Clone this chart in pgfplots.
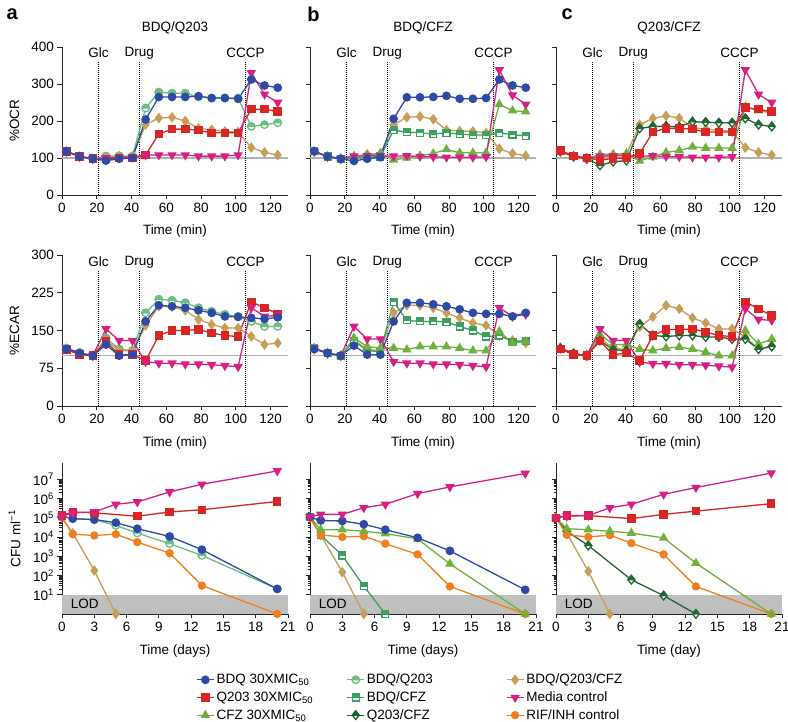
\documentclass[border=0pt]{standalone}
\usepackage{fontspec}
\setmainfont{Liberation Sans}
\usepackage{pgfplots}
\pgfplotsset{compat=1.18}
\usepackage{pgfplotstable}
\usetikzlibrary{plotmarks}

\newcommand\fs{\fontsize{13.5}{16}\selectfont}

\definecolor{cB}{RGB}{46,74,165}
\definecolor{cQ}{RGB}{216,38,36}
\definecolor{cC}{RGB}{110,178,60}
\definecolor{cBQ}{RGB}{110,190,130}
\definecolor{cBC}{RGB}{60,160,95}
\definecolor{cQC}{RGB}{35,100,55}
\definecolor{cBQC}{RGB}{198,158,88}
\definecolor{cM}{RGB}{214,32,132}
\definecolor{cR}{RGB}{238,128,32}

% half-filled marks (upper half in series colour, lower half white)
\pgfdeclareplotmark{hcircBQ}{%
  \pgfpathcircle{\pgfpointorigin}{\pgfplotmarksize}\pgfusepathqfillstroke
  \begin{pgfscope}\pgfsetfillcolor{cBQ}%
  \pgfpathmoveto{\pgfqpoint{\pgfplotmarksize}{0pt}}%
  \pgfpatharc{0}{180}{\pgfplotmarksize}\pgfpathclose\pgfusepathqfillstroke
  \end{pgfscope}}
\pgfdeclareplotmark{hsqBC}{%
  \pgfpathrectangle{\pgfqpoint{-\pgfplotmarksize}{-\pgfplotmarksize}}{\pgfqpoint{2\pgfplotmarksize}{2\pgfplotmarksize}}\pgfusepathqfillstroke
  \begin{pgfscope}\pgfsetfillcolor{cBC}%
  \pgfpathrectangle{\pgfqpoint{-\pgfplotmarksize}{0pt}}{\pgfqpoint{2\pgfplotmarksize}{\pgfplotmarksize}}\pgfusepathqfillstroke
  \end{pgfscope}}
\pgfdeclareplotmark{hdiaQC}{%
  \pgfpathmoveto{\pgfqpoint{0pt}{\pgfplotmarksize}}%
  \pgfpathlineto{\pgfqpoint{.8\pgfplotmarksize}{0pt}}%
  \pgfpathlineto{\pgfqpoint{0pt}{-\pgfplotmarksize}}%
  \pgfpathlineto{\pgfqpoint{-.8\pgfplotmarksize}{0pt}}\pgfpathclose\pgfusepathqfillstroke
  \begin{pgfscope}\pgfsetfillcolor{cQC}%
  \pgfpathmoveto{\pgfqpoint{0pt}{\pgfplotmarksize}}%
  \pgfpathlineto{\pgfqpoint{.8\pgfplotmarksize}{0pt}}%
  \pgfpathlineto{\pgfqpoint{-.8\pgfplotmarksize}{0pt}}\pgfpathclose\pgfusepathqfillstroke
  \end{pgfscope}}

% ---------------- OCR ----------------
\pgfplotstableread{
t     bdq  q203 media bq   bqc
2.5   118  118  118   118  118
10.1  104  104  104   104  104
17.7  98   98   98    98   98
25.3  93   97   100   105  102
32.9  98   100  102   106  103
40.5  100  100  103   105  104
48.1  204  108  108   235  190
55.7  265  165  108   278  208
63.3  265  178  108   275  210
70.9  265  178  108   275  200
78.5  267  175  105   265  180
86.1  262  168  105   262  176
93.7  262  168  105   262  172
101.3 260  168  108   262  170
108.9 312  232  330   185  128
116.5 296  232  272   190  115
124.1 290  225  250   195  108
}\OCRa
\pgfplotstableread{
t     bdq  cfz  bc   bqc  media
2.5   118  115  118  118  118
10.1  104  104  104  104  104
17.7  98   98   98   98   98
25.3  92   105  100  104  105
32.9  98   108  102  110  106
40.5  102  112  104  112  106
48.1  206  95   175  190  105
55.7  264  100  170  210  106
63.3  264  106  168  212  104
70.9  265  112  165  205  103
78.5  268  123  168  175  102
86.1  260  114  165  173  102
93.7  260  114  162  172  102
101.3 262  114  162  168  103
108.9 312  245  168  125  338
116.5 296  228  163  112  270
124.1 290  225  160  106  245
}\OCRb
\pgfplotstableread{
t     q203 cfz  qc   bqc  media
2.5   120  118  118  118  118
10.1  106  104  104  104  104
17.7  100  98   98   98   98
25.3  94   110  80   104  105
32.9  99   110  90   108  106
40.5  100  112  93   110  106
48.1  112  92   180  190  105
55.7  170  103  185  207  106
63.3  180  115  186  214  104
70.9  180  120  184  208  103
78.5  178  130  198  182  102
86.1  170  127  197  178  102
93.7  170  127  195  175  102
101.3 170  127  195  172  103
108.9 236  238  207  128  338
116.5 232  228  190  115  272
124.1 225  222  185  108  250
}\OCRc
% ---------------- ECAR ----------------
\pgfplotstableread{
t     bdq  q203 media bq   bqc
2.5   113  112  115   115  113
10.1  105  102  105   106  105
17.7  100  100  100   100  100
25.3  122  128  153   135  130
32.9  100  102  130   113  110
40.5  102  102  130   110  110
48.1  168  90   88    185  160
55.7  200  140  85    212  198
63.3  198  150  85    210  197
70.9  195  150  83    205  190
78.5  190  152  83    195  172
86.1  185  145  82    188  162
93.7  178  140  80    182  155
101.3 177  138  78    178  155
108.9 175  207  195   168  138
116.5 173  195  178   158  122
124.1 176  183  180   158  125
}\ECARa
\pgfplotstableread{
t     bdq  cfz  bc   bqc  media
2.5   113  115  115  113  115
10.1  105  105  105  105  105
17.7  100  100  100  100  100
25.3  120  135  130  130  158
32.9  102  118  110  112  133
40.5  102  115  108  110  133
48.1  168  115  207  185  88
55.7  205  112  170  200  85
63.3  205  118  168  200  85
70.9  202  118  168  195  83
78.5  198  118  167  185  83
86.1  192  115  158  175  82
93.7  185  110  150  165  80
101.3 183  110  138  160  78
108.9 183  148  140  140  195
116.5 178  125  128  130  178
124.1 185  128  130  125  182
}\ECARb
\pgfplotstableread{
t     q203 cfz  qc   bqc  media
2.5   113  115  115  115  115
10.1  102  104  104  104  104
17.7  100  100  100  100  100
25.3  129  142  130  135  153
32.9  102  122  112  115  130
40.5  105  122  110  112  130
48.1  90   113  163  157  87
55.7  140  110  140  177  84
63.3  152  115  138  200  84
70.9  152  117  140  193  82
78.5  153  113  140  175  82
86.1  147  107  137  165  81
93.7  140  100  137  153  79
101.3 138  100  133  153  77
108.9 207  150  133  137  193
116.5 193  123  113  113  172
124.1 180  133  118  120  170
}\ECARc

\pgfplotsset{
  sB/.style={cB, line width=1.3pt, mark=*, mark size=3.7pt, mark options={solid, fill=cB}},
  sQ/.style={cQ, line width=1.3pt, mark=square*, mark size=3.6pt, mark options={solid, fill=cQ}},
  sC/.style={cC, line width=1.3pt, mark=triangle*, mark size=4.2pt, mark options={solid, fill=cC}},
  sBQ/.style={cBQ, line width=1.3pt, mark=hcircBQ, mark size=3.7pt, mark options={solid, fill=white}},
  sBC/.style={cBC, line width=1.3pt, mark=hsqBC, mark size=3.4pt, mark options={solid, fill=white}},
  sQC/.style={cQC, line width=1.3pt, mark=hdiaQC, mark size=4.3pt, mark options={solid, fill=white}},
  sBQC/.style={cBQC, line width=1.3pt, mark=diamond*, mark size=4.3pt, mark options={solid, fill=cBQC}},
  sM/.style={cM, line width=1.3pt, mark=triangle*, mark size=4.2pt, mark options={solid, fill=cM, rotate=180}},
  sR/.style={cR, line width=1.3pt, mark=*, mark size=3.5pt, mark options={solid, fill=cR}},
  myaxis/.style={scale only axis, width=226pt, axis lines=left,
    axis line style={-, line width=0.9pt, black!85},
    tick align=outside, major tick length=4.5pt, minor tick length=2.5pt,
    tick style={line width=0.9pt, black!85},
    tick label style={font=\fs},
    /pgf/number format/assume math mode=true, clip=false,
    every axis x label/.style={at={(axis description cs:0.5,-0.245)}, anchor=center, font=\fs},
    every axis y label/.style={at={(axis description cs:-0.21,0.5)}, rotate=90, anchor=center, font=\fs},
    every axis title/.style={at={(axis description cs:0.5,1)}, anchor=south, yshift=9pt, font=\fs},
  },
  seah/.style={myaxis, xmin=0, xmax=130, xtick={0,20,...,120}, ymin=0, xlabel={Time (min)}},
  ocr/.style={seah, height=148pt, ymax=400, ytick={0,100,...,400}},
  ecar/.style={seah, height=151pt, ymax=300, ytick={0,75,...,300}},
  noy/.style={yticklabels={}},
}

\newcommand\evOCR{%
  \draw[black!30, line width=1.6pt] (axis cs:0,100) -- (axis cs:130,100);
  \draw[densely dotted, line width=1pt] (axis cs:21,0) -- (axis cs:21,360);
  \draw[densely dotted, line width=1pt] (axis cs:44.5,0) -- (axis cs:44.5,360);
  \draw[densely dotted, line width=1pt] (axis cs:105.5,0) -- (axis cs:105.5,360);
  \node[font=\fs] at (axis cs:21,384) {Glc};
  \node[font=\fs] at (axis cs:44.5,384) {Drug};
  \node[font=\fs] at (axis cs:105.5,384) {CCCP};
}
\newcommand\evECAR{%
  \draw[black!30, line width=1.6pt] (axis cs:0,100) -- (axis cs:130,100);
  \draw[densely dotted, line width=1pt] (axis cs:21,0) -- (axis cs:21,268);
  \draw[densely dotted, line width=1pt] (axis cs:44.5,0) -- (axis cs:44.5,268);
  \draw[densely dotted, line width=1pt] (axis cs:105.5,0) -- (axis cs:105.5,268);
  \node[font=\fs] at (axis cs:21,286) {Glc};
  \node[font=\fs] at (axis cs:44.5,286) {Drug};
  \node[font=\fs] at (axis cs:105.5,286) {CCCP};
}
\newcommand\LOD{%
  \fill[black!25] (axis cs:0,1) rectangle (axis cs:21,10);
  \node[font=\fs, anchor=west] at (axis cs:0.5,3.2) {LOD};
}
\newcommand\plet{\fontsize{20}{22}\selectfont\bfseries}

\begin{document}
\begin{tikzpicture}
\path[use as bounding box] (0,0) rectangle (788pt,722pt);

% ================= Row 1: OCR =================
\begin{axis}[ocr, at={(62pt,527pt)}, anchor=south west, ylabel={\%OCR}, title={BDQ/Q203}]
\evOCR
\addplot[sBQ] table[x=t,y=bq] {\OCRa};
\addplot[sBQC] table[x=t,y=bqc] {\OCRa};
\addplot[sQ] table[x=t,y=q203] {\OCRa};
\addplot[sM] table[x=t,y=media] {\OCRa};
\addplot[sB] table[x=t,y=bdq] {\OCRa};
\node[font=\plet] at (axis description cs:-0.22,1.22) {a};
\end{axis}

\begin{axis}[ocr, noy, at={(310pt,527pt)}, anchor=south west, title={BDQ/CFZ}]
\evOCR
\addplot[sBQC] table[x=t,y=bqc] {\OCRb};
\addplot[sBC] table[x=t,y=bc] {\OCRb};
\addplot[sC] table[x=t,y=cfz] {\OCRb};
\addplot[sM] table[x=t,y=media] {\OCRb};
\addplot[sB] table[x=t,y=bdq] {\OCRb};
\node[font=\plet] at (axis description cs:0.015,1.22) {b};
\end{axis}

\begin{axis}[ocr, noy, at={(556pt,527pt)}, anchor=south west, title={Q203/CFZ}]
\evOCR
\addplot[sBQC] table[x=t,y=bqc] {\OCRc};
\addplot[sC] table[x=t,y=cfz] {\OCRc};
\addplot[sQC] table[x=t,y=qc] {\OCRc};
\addplot[sM] table[x=t,y=media] {\OCRc};
\addplot[sQ] table[x=t,y=q203] {\OCRc};
\node[font=\plet] at (axis description cs:0.05,1.22) {c};
\end{axis}

% ================= Row 2: ECAR =================
\begin{axis}[ecar, at={(62pt,316pt)}, anchor=south west, ylabel={\%ECAR}]
\evECAR
\addplot[sBQ] table[x=t,y=bq] {\ECARa};
\addplot[sBQC] table[x=t,y=bqc] {\ECARa};
\addplot[sQ] table[x=t,y=q203] {\ECARa};
\addplot[sM] table[x=t,y=media] {\ECARa};
\addplot[sB] table[x=t,y=bdq] {\ECARa};
\end{axis}

\begin{axis}[ecar, noy, at={(310pt,316pt)}, anchor=south west]
\evECAR
\addplot[sBQC] table[x=t,y=bqc] {\ECARb};
\addplot[sBC] table[x=t,y=bc] {\ECARb};
\addplot[sC] table[x=t,y=cfz] {\ECARb};
\addplot[sM] table[x=t,y=media] {\ECARb};
\addplot[sB] table[x=t,y=bdq] {\ECARb};
\end{axis}

\begin{axis}[ecar, noy, at={(556pt,316pt)}, anchor=south west]
\evECAR
\addplot[sBQC] table[x=t,y=bqc] {\ECARc};
\addplot[sC] table[x=t,y=cfz] {\ECARc};
\addplot[sQC] table[x=t,y=qc] {\ECARc};
\addplot[sM] table[x=t,y=media] {\ECARc};
\addplot[sQ] table[x=t,y=q203] {\ECARc};
\end{axis}

% ================= Row 3: CFU =================
\begin{axis}[myaxis, height=151pt, ymode=log, ymin=1, ymax=7e7, xmin=0, xmax=21,
  xtick={0,3,...,21}, ytick={10,100,1000,10000,100000,1000000,10000000},
  xlabel={Time (days)},
  at={(62pt,108pt)}, anchor=south west, ylabel={CFU ml\textsuperscript{−1}},
  yticklabels={10\textsuperscript{1},10\textsuperscript{2},10\textsuperscript{3},10\textsuperscript{4},10\textsuperscript{5},10\textsuperscript{6},10\textsuperscript{7}}]
\LOD
\addplot[sBQC] coordinates {(0,1e5)(1,1.6e4)(3,180)(5,1)};
\addplot[sR] coordinates {(0,1e5)(1,1.4e4)(3,1.2e4)(5,1.4e4)(7,5.4e3)(10,1.45e3)(13,30)(20,1)};
\addplot[sBQ] coordinates {(0,1.2e5)(1,9e4)(3,8e4)(5,4e4)(7,1.6e4)(10,4.5e3)(13,1.1e3)(20,20)};
\addplot[sB] coordinates {(0,1.2e5)(1,9e4)(3,8e4)(5,5.6e4)(7,2.7e4)(10,1.07e4)(13,2.2e3)(20,20)};
\addplot[sQ] coordinates {(0,1.3e5)(1,2e5)(3,1.8e5)(7,1.2e5)(10,2e5)(13,2.6e5)(20,7e5)};
\addplot[sM] coordinates {(0,1.17e5)(1,1.8e5)(3,2e5)(5,5e5)(7,6.6e5)(10,2.2e6)(13,5.5e6)(20,2.7e7)};
\end{axis}

\begin{axis}[myaxis, height=151pt, ymode=log, ymin=1, ymax=7e7, xmin=0, xmax=21,
  xtick={0,3,...,21}, ytick={10,100,1000,10000,100000,1000000,10000000},
  xlabel={Time (days)}, yticklabels={},
  at={(310pt,108pt)}, anchor=south west]
\LOD
\addplot[sBQC] coordinates {(0,1e5)(1,1.25e4)(3,150)(5,1)};
\addplot[sBC] coordinates {(0,1.1e5)(1,1.25e4)(3,1.1e3)(5,28)(7,1)};
\addplot[sR] coordinates {(0,1e5)(1,1.3e4)(3,1e4)(5,1.1e4)(7,4.5e3)(10,1.25e3)(13,27)(20,1)};
\addplot[sC] coordinates {(0,1.1e5)(1,2.4e4)(3,2.4e4)(5,2e4)(7,1.5e4)(10,8e3)(13,400)(20,1)};
\addplot[sB] coordinates {(0,1.1e5)(1,7.2e4)(3,6.8e4)(5,4.6e4)(7,2.4e4)(10,9.1e3)(13,1.9e3)(20,18)};
\addplot[sM] coordinates {(0,1.1e5)(1,1.5e5)(3,1.5e5)(5,3.3e5)(7,5e5)(10,1.8e6)(13,4e6)(20,2e7)};
\end{axis}

\begin{axis}[myaxis, height=151pt, ymode=log, ymin=1, ymax=7e7, xmin=0, xmax=21,
  xtick={0,3,...,21}, ytick={10,100,1000,10000,100000,1000000,10000000},
  xlabel={Time (day)}, yticklabels={},
  at={(556pt,108pt)}, anchor=south west]
\LOD
\addplot[sBQC] coordinates {(0,1e5)(1,1.6e4)(3,165)(5,1)};
\addplot[sQC] coordinates {(0,1e5)(1,2e4)(3,3.6e3)(7,60)(10,9)(13,1)};
\addplot[sR] coordinates {(0,1e5)(1,1.3e4)(3,1e4)(5,1.25e4)(7,4.8e3)(10,1.25e3)(13,27)(20,1)};
\addplot[sC] coordinates {(0,1e5)(1,2.7e4)(3,2.4e4)(5,2e4)(7,1.6e4)(10,9e3)(13,440)(20,1)};
\addplot[sQ] coordinates {(0,1e5)(1,1.3e5)(3,1.3e5)(7,9e4)(10,1.5e5)(13,2.2e5)(20,5.4e5)};
\addplot[sM] coordinates {(0,1e5)(1,1.2e5)(3,1.3e5)(5,3.3e5)(7,5e5)(10,1.65e6)(13,3.7e6)(20,2.1e7)};
\end{axis}

% ================= Legend =================
\begin{axis}[hide axis, scale only axis, width=100pt, height=20pt, xmin=0, xmax=1, ymin=0, ymax=1,
  at={(196pt,50pt)}, anchor=north west,
  legend style={at={(0,1)}, anchor=north west, draw=none, fill=none,
    font=\fs, inner sep=0pt, row sep=2.4pt},
  legend columns=3, transpose legend, legend cell align=left]
\addlegendimage{sB}\addlegendentry{\makebox[128pt][l]{BDQ 30XMIC\textsubscript{50}}}
\addlegendimage{sQ}\addlegendentry{\makebox[128pt][l]{Q203 30XMIC\textsubscript{50}}}
\addlegendimage{sC}\addlegendentry{\makebox[128pt][l]{CFZ 30XMIC\textsubscript{50}}}
\addlegendimage{sBQ}\addlegendentry{\makebox[137pt][l]{BDQ/Q203}}
\addlegendimage{sBC}\addlegendentry{\makebox[137pt][l]{BDQ/CFZ}}
\addlegendimage{sQC}\addlegendentry{\makebox[137pt][l]{Q203/CFZ}}
\addlegendimage{sBQC}\addlegendentry{BDQ/Q203/CFZ}
\addlegendimage{sM}\addlegendentry{Media control}
\addlegendimage{sR}\addlegendentry{RIF/INH control}
\end{axis}
\end{tikzpicture}
\end{document}
